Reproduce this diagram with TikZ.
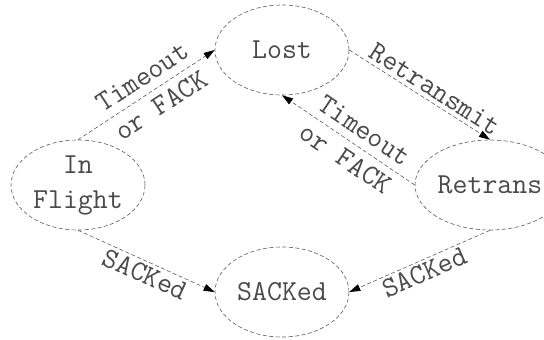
\documentclass[tikz,border=0pt]{standalone}
\usepackage{fontspec}
\usetikzlibrary{shapes.geometric,arrows.meta}
\definecolor{ink}{HTML}{4A4A4A}
\definecolor{wire}{HTML}{5A5A5A}
\tikzset{
  state/.style={ellipse, draw=wire, dash pattern=on 4pt off 2.5pt, line width=0.6pt,
    inner sep=0pt, minimum width=134pt, minimum height=90pt,
    font=\fontsize{29}{35}\selectfont\ttfamily, text=ink, align=center},
  trans/.style={draw=wire, dash pattern=on 4pt off 2.5pt, line width=0.6pt,
    -{Triangle[length=11pt,width=7pt,color=black,fill=black]}},
  tlabel/.style={font=\fontsize{29}{34}\selectfont\ttfamily, text=ink, align=center,
    sloped, inner sep=2pt}
}
\begin{document}
\begin{tikzpicture}[x=1pt,y=-1pt]
  \useasboundingbox (0,0) rectangle (544,340);
  \begin{scope}
    \clip (0,0) rectangle (544,340);
    % states
    \node[state] (inf)  at (78,185)  {In\\Flight};
    \node[state] (lost) at (282,50)  {Lost};
    \node[state, minimum width=150pt] (ret) at (490,185) {Retrans};
    \node[state] (sack) at (282,292) {SACKed};
    % transitions
    \draw[trans] (inf.north) -- node[tlabel, pos=0.54] {Timeout\\or FACK} (lost.west);
    \draw[trans] (lost.east) -- node[tlabel, pos=0.56, above=2pt] {Retransmit} (ret.north);
    \draw[trans] (ret.west) -- node[tlabel, pos=0.45] {Timeout\\or FACK} (lost.south);
    \draw[trans] (inf.south) -- node[tlabel, pos=0.53, below=1pt] {SACKed} (sack.west);
    \draw[trans] (ret.south) -- node[tlabel, midway, below=1pt] {SACKed} (sack.east);
  \end{scope}
\end{tikzpicture}
\end{document}
